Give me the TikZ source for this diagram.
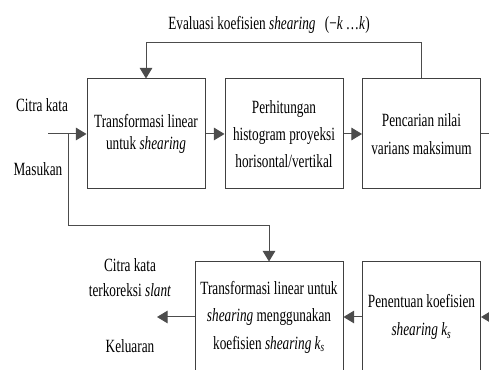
\documentclass[tikz,border=0pt]{standalone}
\usepackage{fontspec}
\setmainfont{Liberation Serif}[FakeStretch=0.71]
\usetikzlibrary{arrows.meta}
\begin{document}
\begin{tikzpicture}[x=0.75pt,y=-0.75pt,
  font=\fontsize{14}{16.5}\selectfont,
  box/.style={draw=black!75, line width=0.75pt, minimum width=88.5pt, minimum height=82.5pt, inner sep=1pt, align=center},
  conn/.style={draw=black!70, line width=0.75pt},
  arr/.style={conn, -{Triangle[length=8pt,width=9.5pt]}},
  lbl/.style={inner sep=0pt, align=center}]
\useasboundingbox (0,0) rectangle (489,370);

% boxes
\node[box, font=\fontsize{14}{16.5}\selectfont] (b1) at (146,134) {Transformasi linear\\untuk \textit{shearing}};
\node[box, font=\fontsize{14}{20}\selectfont] (b2) at (284,134) {Perhitungan\\histogram proyeksi\\horisontal/vertikal};
\node[box, font=\fontsize{14}{21}\selectfont] (b3) at (421.5,134) {Pencarian nilai\\varians maksimum};
\node[box, minimum width=111pt, font=\fontsize{14}{20.6}\selectfont] (b4) at (269,317) {Transformasi linear untuk\\\textit{shearing} menggunakan\\koefisien \textit{shearing k\textsubscript{s}}};
\node[box, font=\fontsize{14}{21}\selectfont] (b5) at (421.5,317) {Penentuan koefisien\\\textit{shearing k\textsubscript{s}}};

% labels
\node[lbl, anchor=base] (ev) at (269,30) {Evaluasi koefisien \textit{shearing}\enspace(−\textit{k}\,…\textit{k})};
\node[lbl, anchor=base] (ci) at (42,112) {Citra kata};
\node[lbl, anchor=base] (ma) at (38,176) {Masukan};
\node[lbl, font=\fontsize{14}{18.75}\selectfont] (co) at (130,278) {Citra kata\\terkoreksi \textit{slant}};
\node[lbl, anchor=base] (ke) at (130,353) {Keluaran};

% coordinates
\coordinate (in) at (48,134);
\coordinate (br) at (68,134);
\coordinate (j1) at (68,226);
\coordinate (t3) at (421.5,43);
\coordinate (r1) at (500,134);
\coordinate (r2) at (500,317);
\coordinate (out) at (157,317);

% connectors
\draw[arr] (in) -- (b1.west);
\draw[conn] (br) -- (j1);
\draw[arr] (j1) -| (b4.north);
\draw[arr] (b1) -- (b2);
\draw[arr] (b2) -- (b3);
\draw[conn] (b3.east) -- (r1);
\draw[arr] (b3.north) -- (b3.north |- t3) -| (b1.north);
\draw[arr] (r2) -- (b5.east);
\draw[arr] (b5) -- (b4);
\draw[arr] (b4.west) -- (out);
\end{tikzpicture}
\end{document}
